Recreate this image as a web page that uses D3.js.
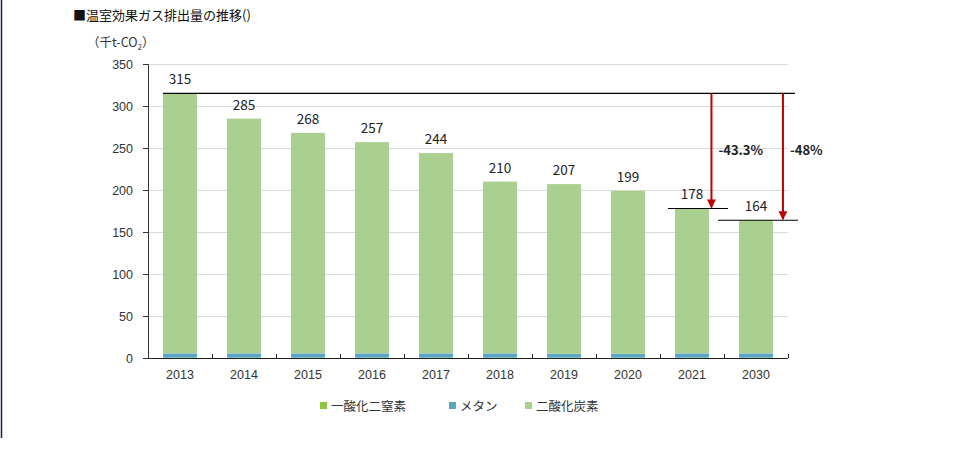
<!DOCTYPE html>
<html>
<head>
<meta charset="utf-8">
<script src="https://cdn.jsdelivr.net/npm/d3@7"></script>
<style>
  html, body { margin: 0; padding: 0; background: #fff; }
  svg { display: block; font-family: "Noto Sans CJK JP", "Noto Sans", sans-serif; }
</style>
</head>
<body>
<svg id="chart" width="953" height="460"></svg>
<script>
// ---- Data -------------------------------------------------------------------
const years    = ['2013', '2014', '2015', '2016', '2017', '2018', '2019', '2020', '2021', '2030'];
const n2o      = [0.5, 0.5, 0.5, 0.5, 0.5, 0.5, 0.5, 0.5, 0.5, 0.5];
const methane  = [5, 5, 5, 5, 5, 5, 4.5, 4.5, 5, 5];
const co2      = [309.5, 279.5, 262.5, 251.5, 238.5, 204.5, 202, 194, 172.5, 158.5];
const totals   = [315, 285, 268, 257, 244, 210, 207, 199, 178, 164];
const yTicks   = [0, 50, 100, 150, 200, 250, 300, 350];
const seriesNames  = ['一酸化二窒素', 'メタン', '二酸化炭素'];
const seriesColors = ['#8cc540', '#5aa6c9', '#a9d08e'];
const reductions   = [{ from: '2013', to: '2021', label: '-43.3%' },
                      { from: '2013', to: '2030', label: '-48%' }];

// ---- Layout -----------------------------------------------------------------
const svg = d3.select('#chart');
const plotL = 148, plotR = 788, plotT = 64, plotB = 358;

const x = d3.scaleBand().domain(years).range([plotL, plotR]).paddingInner(0.47).paddingOuter(0.235);
const y = d3.scaleLinear().domain([0, 350]).range([plotB, plotT]);

// left frame edge
svg.append('line').attr('x1', 1.5).attr('x2', 1.5).attr('y1', 0).attr('y2', 438)
  .attr('stroke', '#1c1c4c').attr('stroke-width', 1.5);

// title + unit
svg.append('text').attr('x', 73).attr('y', 20).attr('font-size', 13).attr('fill', '#111')
  .text('■温室効果ガス排出量の推移()');
const unit = svg.append('text').attr('x', 87).attr('y', 47).attr('font-size', 12.5).attr('fill', '#333');
unit.append('tspan').text('（千t-CO');
unit.append('tspan').attr('font-size', 8).attr('dy', 3).text('2');
unit.append('tspan').attr('dy', -3).text('）');

// gridlines
svg.append('g').selectAll('line').data(yTicks.filter(d => d > 0)).join('line')
  .attr('x1', plotL).attr('x2', plotR)
  .attr('y1', d => y(d) + 0.5).attr('y2', d => y(d) + 0.5)
  .attr('stroke', '#d9d9d9');

// ---- Stacked bars -----------------------------------------------------------
const rows = years.map((yr, i) => ({ year: yr, n2o: n2o[i], methane: methane[i], co2: co2[i] }));
const stack = d3.stack().keys(['n2o', 'methane', 'co2'])(rows);

svg.append('g').selectAll('g').data(stack).join('g')
  .attr('fill', (d, i) => seriesColors[i])
  .selectAll('rect').data(d => d).join('rect')
  .attr('x', d => x(d.data.year))
  .attr('width', x.bandwidth())
  .attr('y', d => y(d[1]))
  .attr('height', d => y(d[0]) - y(d[1]));

// value labels
svg.append('g').selectAll('text').data(totals).join('text')
  .attr('x', (d, i) => x(years[i]) + x.bandwidth() / 2)
  .attr('y', d => y(d) - 9)
  .attr('text-anchor', 'middle').attr('font-size', 13.5).attr('fill', '#222')
  .text(d => d);

// ---- Axes -------------------------------------------------------------------
const yAxis = svg.append('g').attr('transform', `translate(${plotL},0)`)
  .call(d3.axisLeft(y).tickValues(yTicks).tickSize(5).tickPadding(10));
yAxis.select('.domain').attr('stroke', '#333');
yAxis.selectAll('.tick line').attr('stroke', '#333');
yAxis.selectAll('text').attr('font-size', 12.5).attr('fill', '#333').attr('font-family', null);

const xAxis = svg.append('g').attr('transform', `translate(0,${plotB})`)
  .call(d3.axisBottom(x).tickSize(0).tickPadding(12));
xAxis.select('.domain').remove();
xAxis.selectAll('text').attr('font-size', 12.5).attr('fill', '#333').attr('font-family', null);
svg.append('line').attr('x1', plotL).attr('x2', plotR).attr('y1', plotB + 0.5).attr('y2', plotB + 0.5)
  .attr('stroke', '#222');
// category separators (inward ticks)
svg.append('g').selectAll('line').data(years).join('line')
  .attr('x1', (d, i) => plotL + x.step() * (i + 1) + 0.5)
  .attr('x2', (d, i) => plotL + x.step() * (i + 1) + 0.5)
  .attr('y1', plotB - 4).attr('y2', plotB)
  .attr('stroke', '#222');

// ---- Reference lines and reduction arrows -----------------------------------
svg.append('defs').append('marker').attr('id', 'head')
  .attr('viewBox', '0 0 10 10').attr('refX', 9).attr('refY', 5)
  .attr('markerWidth', 4.5).attr('markerHeight', 4.5).attr('orient', 'auto')
  .append('path').attr('d', 'M0,0L10,5L0,10z').attr('fill', '#c00000');

const base = totals[0];
svg.append('line').attr('x1', x('2013')).attr('x2', 795)
  .attr('y1', y(base)).attr('y2', y(base)).attr('stroke', '#000').attr('stroke-width', 1.2);

const val = yr => totals[years.indexOf(yr)];
// short ledger under the 2021 and 2030 labels
svg.append('line').attr('x1', x('2021') - 7).attr('x2', x('2021') + x.bandwidth() + 19)
  .attr('y1', y(val('2021'))).attr('y2', y(val('2021'))).attr('stroke', '#000').attr('stroke-width', 1.2);
svg.append('line').attr('x1', x('2030') - 21).attr('x2', x('2030') + x.bandwidth() + 25)
  .attr('y1', y(val('2030'))).attr('y2', y(val('2030'))).attr('stroke', '#000').attr('stroke-width', 1.2);

const arrowX = [x('2021') + x.bandwidth() + 2.5, x('2030') + x.bandwidth() + 10];
reductions.forEach((r, i) => {
  svg.append('line').attr('x1', arrowX[i]).attr('x2', arrowX[i])
    .attr('y1', y(val(r.from))).attr('y2', y(val(r.to)) - 1)
    .attr('stroke', '#c00000').attr('stroke-width', 2)
    .attr('marker-end', 'url(#head)');
  svg.append('text').attr('x', arrowX[i] + 7).attr('y', 155)
    .attr('font-size', 13).attr('font-weight', 'bold').attr('fill', '#222')
    .text(r.label);
});

// ---- Legend -----------------------------------------------------------------
const legendX = [320, 449, 525];
const legend = svg.append('g').selectAll('g').data(seriesNames).join('g')
  .attr('transform', (d, i) => `translate(${legendX[i]},406)`);
legend.append('rect').attr('x', 0).attr('y', -4).attr('width', 7).attr('height', 7)
  .attr('fill', (d, i) => seriesColors[i]);
legend.append('text').attr('x', 11).attr('y', 5).attr('font-size', 12.5).attr('fill', '#333')
  .text(d => d);
</script>
</body>
</html>
